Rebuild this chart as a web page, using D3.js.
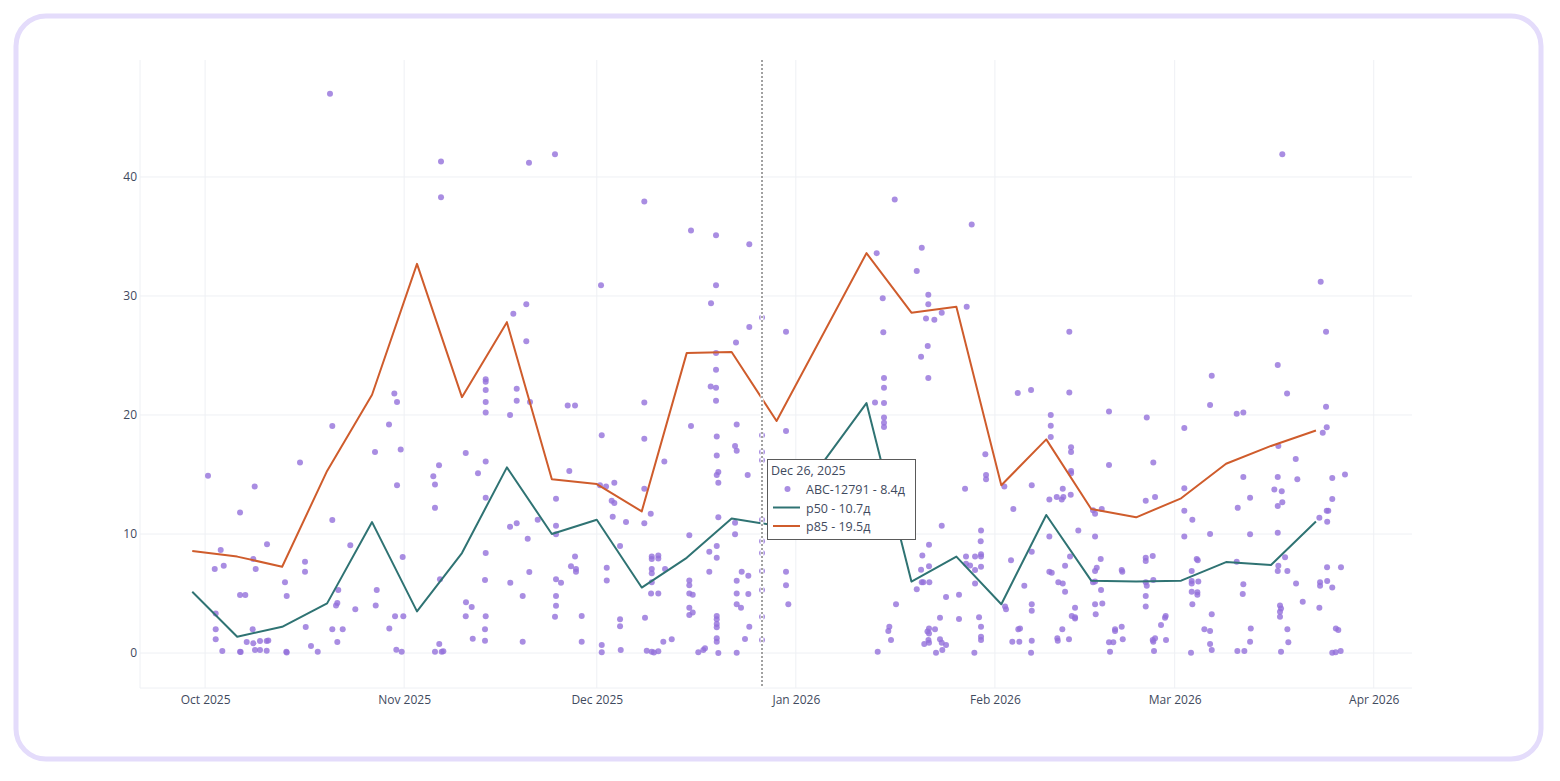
<!DOCTYPE html>
<html>
<head>
<meta charset="utf-8">
<script src="https://cdn.jsdelivr.net/npm/d3@7"></script>
<style>
body { margin: 0; background: #fff; }
svg text { font-family: "Open Sans", sans-serif; }
</style>
</head>
<body>
<div class="chart"></div>
<script>
// weekly percentiles (Mondays)
const weeks = ["2025-09-29","2025-10-06","2025-10-13","2025-10-20","2025-10-27","2025-11-03","2025-11-10","2025-11-17","2025-11-24",
  "2025-12-01","2025-12-08","2025-12-15","2025-12-22","2025-12-29","2026-01-12","2026-01-19","2026-01-26",
  "2026-02-02","2026-02-09","2026-02-16","2026-02-23","2026-03-02","2026-03-09","2026-03-16","2026-03-23"];
const p50 = [5.15,1.37,2.2,4.17,11.0,3.5,8.4,15.6,10.0,11.2,5.5,8.0,11.3,10.7,21.0,6.0,8.1,4.1,11.6,6.08,6.0,6.08,7.64,7.4,11.05];
const p85 = [8.57,8.1,7.25,15.3,21.7,32.7,21.5,27.8,14.6,14.2,11.9,25.2,25.3,19.5,33.6,28.6,29.1,14.1,17.95,12.1,11.4,13.0,15.9,17.4,18.7];

const monthTicks = ["2025-10-01","2025-11-01","2025-12-01","2026-01-01","2026-02-01","2026-03-01","2026-04-01"];
const yTicks = [0, 10, 20, 30, 40];

// closed tickets: [days after 2025-10-01, cycle time in days]
const ticketStart = "2025-10-01";
const tickets = [
[0.45,14.9],[1.5,7.06],[1.65,3.33],[1.65,1.99],[1.65,1.15],[2.43,8.66],[2.68,0.17],[2.9,7.34],
[5.44,11.8],[5.44,4.87],[5.54,0.08],[5.44,0.1],[6.26,4.87],[6.48,0.92],[7.41,2.0],[7.51,0.81],[7.72,14.0],[7.51,7.9],[7.88,7.06],[7.77,0.25],[8.55,1.0],[8.55,0.25],[9.59,1.0],[9.84,1.05],[9.59,0.2],[9.64,9.13],
[12.44,5.94],[12.71,4.79],[12.65,0.1],[12.71,0.05],[14.78,16.0],[15.56,7.67],[15.56,6.83],[15.67,2.18],[16.49,0.59],[17.54,0.11],
[19.45,47.0],[19.81,19.07],[19.81,11.18],[19.81,1.99],[20.74,5.3],[20.39,4.0],[20.59,4.2],[20.59,0.92],[21.43,1.99],[22.61,9.05],[23.39,3.67],
[26.46,16.9],[26.73,5.3],[26.57,4.0],[28.64,19.2],[28.69,2.07],[29.47,21.8],[29.89,21.1],[29.58,3.08],[29.89,14.1],[29.78,0.28],[30.46,17.1],[30.62,0.11],[30.77,8.07],[30.87,3.08],
[35.54,14.85],[35.8,14.15],[35.8,12.2],[35.8,0.1],[36.43,15.77],[36.47,0.76],[36.58,6.2],[36.74,41.3],[36.74,38.3],[36.85,0.1],[37.1,0.15],
[40.59,16.8],[40.63,4.26],[40.59,3.08],[41.68,1.2],[41.52,3.87],[42.5,15.1],
[43.7,23.0],[43.7,22.8],[43.7,22.1],[43.7,21.1],[43.7,20.2],[43.7,16.1],[43.7,13.05],[43.7,8.4],[43.59,6.13],[43.7,3.08],[43.59,2.0],[43.59,1.04],
[48.0,28.5],[50.02,29.3],[50.02,26.2],[48.53,22.2],[48.53,21.2],[47.49,20.0],[50.6,21.1],[47.49,10.6],[48.53,10.9],[50.24,9.6],[51.8,11.2],[50.49,6.8],[47.53,5.9],[49.46,4.8],[49.46,0.95],[50.44,41.2],
[54.49,41.9],[54.65,12.97],[54.65,10.7],[54.65,9.97],[56.72,15.3],[54.65,6.2],[55.43,5.9],[54.65,4.8],[54.65,3.97],[54.49,3.05],[57.61,8.1],[56.98,7.3],[57.76,7.06],[57.76,6.83],[58.65,3.1],[58.65,0.95],[56.47,20.8],[57.61,20.8],
[61.66,30.9],[61.77,18.3],[61.5,14.1],[62.44,14.0],[63.73,14.3],[63.32,12.8],[63.73,12.6],[63.48,11.45],[65.55,11.0],[64.62,9.0],[62.55,7.17],[62.55,6.1],[64.62,2.83],[64.62,2.24],[64.73,0.25],[61.77,0.67],[61.77,0.06],
[68.4,37.95],[68.4,21.05],[68.4,18.0],[71.52,16.1],[68.4,13.8],[69.4,11.7],[68.4,10.9],[69.56,8.1],[69.56,7.9],[70.58,8.2],[70.58,7.95],[69.56,7.06],[69.56,6.7],[71.63,7.06],[69.56,5.94],[69.45,5.0],[70.58,5.0],[68.51,2.97],[68.78,0.2],[69.56,0.1],[69.9,0.05],[70.58,0.15],[71.36,0.95],[72.67,1.15],
[75.67,19.07],[75.67,35.5],[75.41,9.9],[75.41,6.1],[75.41,5.7],[75.41,5.0],[75.41,3.8],[75.41,3.2],[75.94,4.9],[75.94,3.4],[76.81,0.06],[77.59,0.25],[77.85,0.4],
[79.57,35.1],[79.57,30.9],[78.79,29.4],[79.57,25.2],[79.57,23.8],[78.74,22.4],[79.57,22.3],[79.57,21.2],[79.68,18.2],[79.68,16.6],[79.93,15.2],[79.68,14.95],[79.93,14.3],[79.93,11.4],[78.52,8.5],[79.68,9.0],[79.68,8.0],[78.52,6.83],[79.68,3.1],[79.68,2.83],[79.68,2.44],[79.68,2.16],[79.68,1.23],[79.68,0.95],[79.93,0.0],
[84.75,34.35],[84.75,27.4],[82.68,26.1],[82.79,19.2],[82.53,17.4],[82.79,17.0],[84.5,14.96],[82.53,10.95],[82.53,9.97],[83.57,6.83],[84.6,6.5],[82.79,6.08],[82.79,5.0],[84.6,4.96],[82.79,4.1],[83.46,3.8],[84.75,2.2],[84.08,1.18],[82.79,0.03],
[86.73,28.2],[86.73,18.3],[86.73,16.9],[86.73,16.2],[86.73,11.2],[86.73,9.4],[86.73,8.4],[86.73,6.9],[86.73,5.3],[86.73,3.05],[86.73,1.1],
[90.47,27.0],[90.47,18.65],[90.47,6.83],[90.47,5.7],[90.83,4.1],
[104.59,33.6],[105.53,29.8],[105.62,26.96],[105.73,23.1],[105.73,22.3],[104.33,21.05],[105.73,21.0],[105.73,19.8],[105.73,19.35],[105.73,19.0],[104.75,0.1],[106.56,2.2],[106.4,1.85],[106.82,1.1],[107.6,4.1],[107.4,38.1],
[111.61,34.06],[110.83,32.1],[112.63,30.1],[112.63,29.3],[112.27,28.1],[113.57,28.0],[114.72,28.6],[112.54,25.8],[111.5,24.9],[112.63,23.1],[114.72,10.7],[112.74,9.1],[111.7,8.2],[112.74,7.3],[111.5,7.0],[111.61,5.94],[111.85,5.94],[112.79,5.94],[110.83,5.35],[112.74,2.07],[112.5,1.8],[112.74,1.65],[112.65,1.09],[112.0,0.76],[112.74,0.87],[113.67,1.99],[114.45,1.15],[114.72,0.87],[115.39,0.67],[114.81,0.25],[113.83,0.03],[115.39,4.7],[117.41,4.9],[117.41,2.86],[114.45,2.97],
[119.39,36.0],[118.61,29.1],[118.35,13.8],[121.51,16.7],[121.62,14.96],[121.62,14.6],[120.84,10.3],[120.79,9.4],[118.5,8.1],[118.5,7.5],[119.91,8.1],[119.91,6.97],[119.91,5.85],[120.84,8.3],[120.84,8.1],[120.84,7.25],[119.13,7.35],[120.53,3.0],[120.84,2.2],[120.84,1.37],[120.84,1.09],[119.8,0.03],
[124.47,14.0],[124.58,3.9],[124.73,3.67],[125.87,12.1],[125.51,7.8],[126.56,21.85],[128.63,22.1],[127.58,5.66],[128.74,14.1],[128.74,8.5],[128.74,4.1],[128.74,3.55],[126.65,1.99],[126.91,2.07],[125.71,0.95],[126.8,0.95],[128.74,1.04],[128.63,0.03],
[131.7,20.0],[131.7,19.1],[131.7,18.15],[134.59,27.0],[134.59,21.9],[134.86,17.3],[134.86,16.9],[134.86,15.3],[134.86,15.1],[131.48,12.9],[132.63,13.1],[133.41,12.9],[133.66,13.1],[133.57,13.8],[134.81,13.3],[135.99,10.3],[131.48,9.8],[131.48,6.83],[131.85,6.75],[132.88,5.94],[133.57,5.85],[133.93,7.34],[134.7,8.1],[133.93,5.15],[135.48,3.8],[134.97,3.1],[135.48,2.9],[135.48,3.0],[133.5,1.99],[132.72,1.23],[132.79,1.04],[134.54,1.15],
[140.77,20.3],[140.77,15.8],[138.28,12.0],[138.6,11.7],[139.64,12.1],[138.6,9.8],[139.48,7.9],[138.86,7.17],[138.6,6.9],[138.6,6.0],[138.28,5.94],[139.53,5.3],[138.6,4.1],[139.73,4.17],[138.7,3.25],[142.75,6.97],[142.84,6.83],[141.71,2.0],[141.71,1.85],[142.75,2.2],[140.77,0.9],[141.44,0.9],[142.91,1.15],[140.93,0.11],
[146.65,19.8],[147.67,16.0],[146.49,12.8],[147.94,13.1],[146.49,8.0],[146.49,7.73],[147.58,8.15],[146.49,5.94],[146.65,5.66],[147.67,6.13],[146.49,4.8],[146.49,3.9],[149.6,3.1],[149.49,2.97],[148.87,2.35],[147.58,1.1],[147.94,1.23],[147.67,0.95],[149.65,1.1],[147.78,0.17],
[152.5,18.9],[152.5,13.84],[152.5,11.96],[153.75,11.2],[152.5,9.8],[156.51,10.0],[154.43,7.9],[154.59,7.8],[153.65,6.9],[153.65,6.05],[153.65,5.85],[154.68,6.0],[153.65,5.15],[154.53,5.1],[154.53,4.9],[153.75,4.1],[156.77,3.25],[155.62,2.0],[156.51,1.85],[156.51,0.76],[156.77,0.25],[153.54,0.03],[156.77,23.3],[156.51,20.85],
[160.66,20.1],[161.69,20.2],[161.69,14.8],[160.82,12.2],[162.74,13.05],[162.74,9.97],[160.66,7.67],[161.69,5.77],[161.6,4.96],[162.85,2.07],[162.74,0.95],[160.76,0.17],[161.85,0.17],
[167.76,41.9],[167.05,24.2],[168.5,21.8],[167.14,17.4],[169.85,16.3],[167.05,14.8],[170.1,14.6],[166.52,13.75],[167.67,13.6],[167.76,12.66],[167.05,12.35],[167.05,10.1],[168.19,8.04],[167.14,7.34],[167.05,6.9],[168.55,6.9],[169.9,5.85],[170.94,4.3],[167.4,4.0],[167.56,3.75],[167.4,3.47],[167.4,3.05],[168.55,2.0],[168.7,0.9],[167.56,0.11],
[173.74,31.2],[174.57,27.0],[174.57,20.7],[174.68,18.97],[174.06,18.5],[175.54,14.7],[177.52,15.0],[175.54,12.94],[174.68,11.96],[174.92,11.96],[173.53,11.37],[174.75,11.03],[174.73,7.2],[176.9,7.2],[174.75,6.05],[173.64,5.94],[173.64,5.66],[175.54,5.5],[173.53,3.8],[176.1,2.07],[176.48,1.93],[175.54,0.03],[176.07,0.06],[176.85,0.17]
];

// hovered point
const hoverDay = 86.73;
const hoverTitle = "Dec 26, 2025";
const hoverRows = ["ABC-12791 - 8.4д", "p50 - 10.7д", "p85 - 19.5д"];

const colors = { dot: "#9370db", p50: "#2f7373", p85: "#cf5c2c", text: "#3f4a5e", grid: "#eef0f4" };

const parse = d3.timeParse("%Y-%m-%d");
const base = parse(ticketStart);
const dayToDate = d => new Date(base.getTime() + d * 864e5);

const W = 1560, H = 781;
const plot = { left: 140, right: 1412, top: 60, bottom: 688 };

const svg = d3.select(".chart").append("svg")
  .attr("width", W)
  .attr("height", H);

// rounded frame
svg.append("rect")
  .attr("x", 16).attr("y", 16)
  .attr("width", 1525).attr("height", 743)
  .attr("rx", 30)
  .attr("fill", "#fff")
  .attr("stroke", "#e4dcfb")
  .attr("stroke-width", 5);

const x = d3.scaleTime()
  .domain([new Date(2025, 8, 20, 20, 40), new Date(2026, 3, 6, 23, 0)])
  .range([plot.left, plot.right]);

const y = d3.scaleLinear()
  .domain([-2.94, 49.83])
  .range([plot.bottom, plot.top]);

// grid
svg.append("g").selectAll("line")
  .data(yTicks)
  .enter().append("line")
  .attr("x1", plot.left).attr("x2", plot.right)
  .attr("y1", d => y(d)).attr("y2", d => y(d))
  .attr("stroke", colors.grid);

svg.append("g").selectAll("line")
  .data(monthTicks.map(parse))
  .enter().append("line")
  .attr("x1", d => x(d)).attr("x2", d => x(d))
  .attr("y1", plot.top).attr("y2", plot.bottom)
  .attr("stroke", colors.grid);

// faint plot edges
svg.append("line")
  .attr("x1", plot.left).attr("x2", plot.left)
  .attr("y1", plot.top).attr("y2", plot.bottom)
  .attr("stroke", colors.grid);
svg.append("line")
  .attr("x1", plot.left).attr("x2", plot.right)
  .attr("y1", plot.bottom).attr("y2", plot.bottom)
  .attr("stroke", colors.grid);

// axes
const xAxis = d3.axisBottom(x)
  .tickValues(monthTicks.map(parse))
  .tickFormat(d3.timeFormat("%b %Y"))
  .tickSize(0)
  .tickPadding(7);

const gx = svg.append("g")
  .attr("transform", `translate(0, ${plot.bottom})`)
  .call(xAxis);
gx.select(".domain").remove();
gx.selectAll("text").attr("fill", colors.text).style("font-size", "12px");

const yAxis = d3.axisLeft(y)
  .tickValues(yTicks)
  .tickSize(0)
  .tickPadding(3);

const gy = svg.append("g")
  .attr("transform", `translate(${plot.left}, 0)`)
  .call(yAxis);
gy.select(".domain").remove();
gy.selectAll("text").attr("fill", colors.text).style("font-size", "12px");

// scatter
svg.append("g").selectAll("circle")
  .data(tickets)
  .enter().append("circle")
  .attr("cx", d => x(dayToDate(d[0])))
  .attr("cy", d => y(d[1]))
  .attr("r", 3)
  .attr("fill", colors.dot)
  .attr("fill-opacity", 0.8);

// percentile lines
const line = d3.line()
  .x(d => x(parse(d[0])))
  .y(d => y(d[1]));

svg.append("path")
  .datum(weeks.map((w, i) => [w, p50[i]]))
  .attr("d", line)
  .attr("fill", "none")
  .attr("stroke", colors.p50)
  .attr("stroke-width", 2)
  .attr("stroke-linejoin", "round");

svg.append("path")
  .datum(weeks.map((w, i) => [w, p85[i]]))
  .attr("d", line)
  .attr("fill", "none")
  .attr("stroke", colors.p85)
  .attr("stroke-width", 2)
  .attr("stroke-linejoin", "round");

// spike line
const hx = x(dayToDate(hoverDay));
svg.append("line")
  .attr("x1", hx).attr("x2", hx)
  .attr("y1", plot.top).attr("y2", plot.bottom)
  .attr("stroke", "#fff")
  .attr("stroke-width", 3);
svg.append("line")
  .attr("x1", hx).attr("x2", hx)
  .attr("y1", plot.top).attr("y2", plot.bottom)
  .attr("stroke", "#444")
  .attr("stroke-width", 1)
  .attr("stroke-dasharray", "2,2");

// hover label
const tip = svg.append("g")
  .attr("transform", `translate(${hx + 5}, 459)`);

tip.append("rect")
  .attr("x", 0.5).attr("y", 0.5)
  .attr("width", 148).attr("height", 80)
  .attr("fill", "#fff")
  .attr("stroke", "#5a5a5a")
  .attr("stroke-width", 1);

tip.append("text")
  .attr("x", 4).attr("y", 16)
  .attr("fill", colors.text)
  .style("font-size", "12.5px")
  .text(hoverTitle);

const rowY = [35, 53.5, 72];
tip.append("circle")
  .attr("cx", 20.5).attr("cy", rowY[0] - 5)
  .attr("r", 3)
  .attr("fill", colors.dot)
  .attr("fill-opacity", 0.8);
[colors.p50, colors.p85].forEach((c, i) => {
  tip.append("line")
    .attr("x1", 6).attr("x2", 33)
    .attr("y1", rowY[i + 1] - 5).attr("y2", rowY[i + 1] - 5)
    .attr("stroke", c)
    .attr("stroke-width", 2);
});
tip.selectAll(".row")
  .data(hoverRows)
  .enter().append("text")
  .attr("x", 39)
  .attr("y", (d, i) => rowY[i])
  .attr("fill", colors.text)
  .style("font-size", "12.5px")
  .text(d => d);
</script>
</body>
</html>
